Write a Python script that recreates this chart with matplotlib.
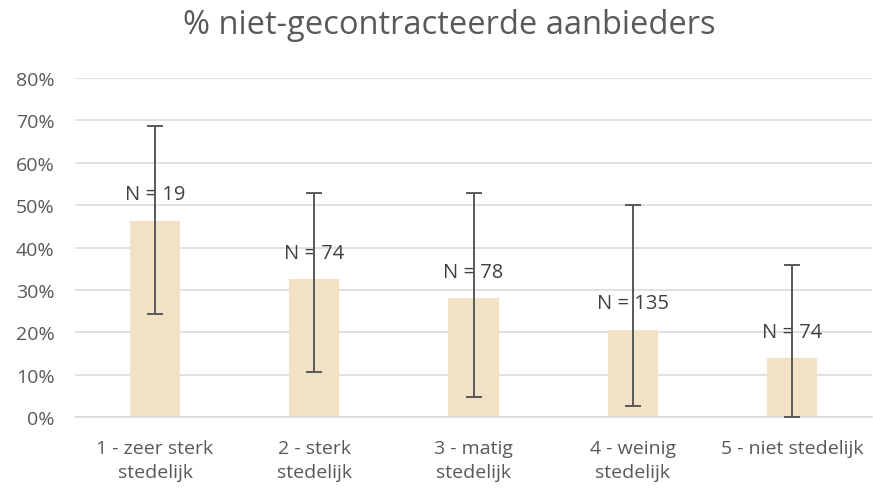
import matplotlib
matplotlib.use("Agg")
import matplotlib.pyplot as plt
from matplotlib.ticker import PercentFormatter

categories = ["1 - zeer sterk\nstedelijk", "2 - sterk\nstedelijk", "3 - matig\nstedelijk",
              "4 - weinig\nstedelijk", "5 - niet stedelijk"]
values = [0.464, 0.325, 0.281, 0.207, 0.140]
err_low = [0.243, 0.106, 0.049, 0.027, 0.0]
err_high = [0.688, 0.528, 0.528, 0.500, 0.359]
n_labels = ["N = 19", "N = 74", "N = 78", "N = 135", "N = 74"]

plt.rcParams['font.family'] = ['Open Sans', 'DejaVu Sans']

fig = plt.figure(figsize=(8.73, 4.89), dpi=100)
ax = fig.add_axes([75.4 / 873, (489 - 418.3) / 489, (871.6 - 75.4) / 873, (418.3 - 79) / 489])

x = list(range(len(categories)))
yerr = [[v - lo for v, lo in zip(values, err_low)], [hi - v for v, hi in zip(values, err_high)]]
ax.bar(x, values, width=0.314, color="#F1E2C6", zorder=2)
ax.errorbar(x, values, yerr=yerr, fmt="none", ecolor="#595959", elinewidth=1.4,
            capsize=5.5, capthick=1.4, zorder=4)

for xi, v, lab in zip(x, values, n_labels):
    ax.annotate(lab, (xi, v), xytext=(0, 19), textcoords="offset points",
                ha="center", va="center", fontsize=14.5, color="#404040", zorder=3)

ax.set_xlim(-0.5, len(categories) - 0.5)
ax.set_ylim(0, 0.8)
ax.set_yticks([i / 10 for i in range(9)])
ax.yaxis.set_major_formatter(PercentFormatter(1.0, decimals=0))
ax.set_xticks(x)
ax.set_xticklabels(categories, linespacing=1.45)
ax.grid(axis="y", color="#D9D9D9", linewidth=1.1, zorder=0)
ax.set_axisbelow(True)
for s in ["top", "right", "left"]:
    ax.spines[s].set_visible(False)
ax.spines["bottom"].set_color("#D9D9D9")
ax.spines["bottom"].set_linewidth(1.1)
ax.tick_params(axis="both", length=0, labelsize=14, labelcolor="#595959")
ax.tick_params(axis="y", pad=15)
ax.tick_params(axis="x", pad=15.5)

fig.suptitle("% niet-gecontracteerde aanbieders", x=(183 + 716) / 2 / 873, y=1 - 26 / 489,
             va="center", fontsize=23.5, color="#595959")

fig.savefig("out.png", dpi=100)
